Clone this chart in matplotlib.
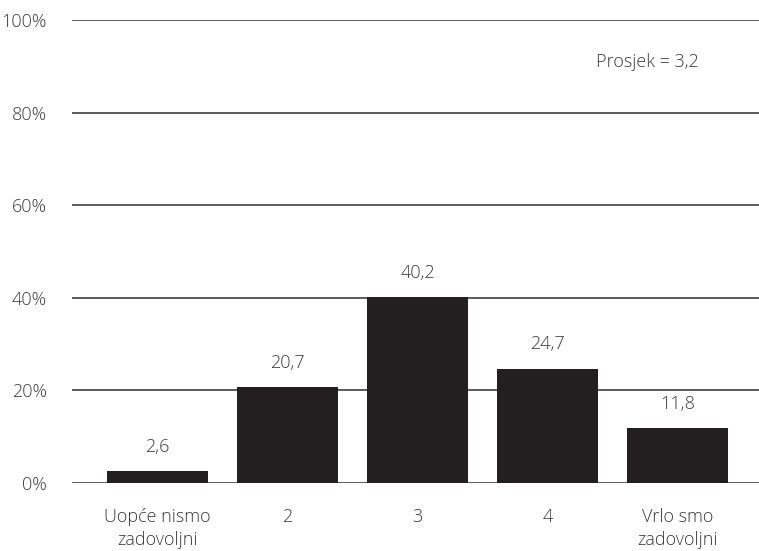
import matplotlib
matplotlib.use("Agg")
import matplotlib.pyplot as plt

categories = ["Uopće nismo\nzadovoljni", "2", "3", "4", "Vrlo smo\nzadovoljni"]
values = [2.6, 20.7, 40.2, 24.7, 11.8]
value_labels = ["2,6", "20,7", "40,2", "24,7", "11,8"]
yticks = [0, 20, 40, 60, 80, 100]
ytick_labels = ["0%", "20%", "40%", "60%", "80%", "100%"]
note = "Prosjek = 3,2"

plt.rcParams['font.family'] = ['Open Sans', 'DejaVu Sans']
txt = '#3a3a3a'
fs = 13

fig = plt.figure(figsize=(7.59, 5.51), dpi=100)
ax = fig.add_axes([72/759, 1-483/551, 1-72/759, (483-20)/551])

x = list(range(len(categories)))
ax.bar(x, values, width=0.777, color='#231f20', zorder=3)
for xi, v, lab in zip(x, values, value_labels):
    ax.annotate(lab, (xi, v), xytext=(0, 11), textcoords='offset points',
                ha='center', va='bottom', fontsize=fs, color=txt, fontweight='light')

ax.set_xlim(-0.658, 4.627)
ax.set_ylim(0, 100)
ax.set_yticks(yticks)
ax.set_yticklabels(ytick_labels)
ax.set_xticks(x)
ax.set_xticklabels(categories, linespacing=1.35)
ax.tick_params(axis='both', length=0, labelsize=fs, labelcolor=txt)
ax.tick_params(axis='y', pad=18)
ax.tick_params(axis='x', pad=18)
for lbl in ax.get_xticklabels() + ax.get_yticklabels():
    lbl.set_fontweight('light')
ax.grid(axis='y', color='#404040', linewidth=1.2, zorder=0)
ax.set_axisbelow(True)
for s in ax.spines.values():
    s.set_visible(False)

ax.text(3.765, 90.9, note, ha='center', va='center', fontsize=fs, color=txt, fontweight='light')

fig.savefig("out.png", dpi=100)
